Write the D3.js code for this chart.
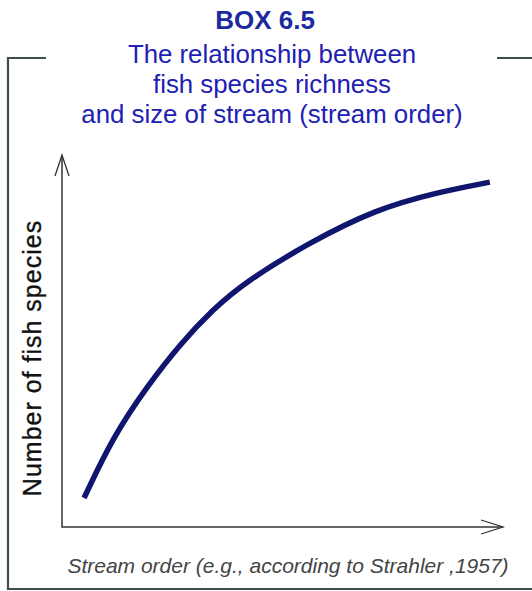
<html>

<head>
    <script src="https://d3js.org/d3.v7.min.js"></script>
    <style>
        body { margin: 0; background: #fff; }
        text { font-family: "Liberation Sans", Arial, sans-serif; }
    </style>
</head>

<body>
    <svg height="591" width="532"></svg>

    <script>
        // stream order (arbitrary units) vs number of fish species (arbitrary units)
        const streamOrder = [0.50, 1.16, 1.93, 2.68, 3.43, 4.16, 5.57, 7.11, 8.52, 9.70];
        const species     = [0.78, 2.43, 3.78, 4.92, 5.86, 6.59, 7.62, 8.54, 9.00, 9.27];
        const titleLines = ["The relationship between", "fish species richness", "and size of stream (stream order)"];

        const svg = d3.select("svg");
        const margins = { top: 155, right: 29, bottom: 64, left: 62 };
        const width = +svg.attr("width");
        const height = +svg.attr("height");

        const xScale = d3.scaleLinear().domain([0, 10]).range([margins.left, width - margins.right]);
        const yScale = d3.scaleLinear().domain([0, 10]).range([height - margins.bottom, margins.top]);

        // frame
        const frameColor = "#3f4f4f";
        svg.append("path")
            .attr("d", "M46,58 H8 V589 H532 M497,58 H532")
            .attr("fill", "none")
            .attr("stroke", frameColor)
            .attr("stroke-width", 2.2);

        // title
        svg.append("text")
            .attr("x", 265).attr("y", 29)
            .attr("text-anchor", "middle")
            .attr("font-size", 26).attr("font-weight", "bold")
            .attr("fill", "#1b2a9c")
            .text("BOX 6.5");

        svg.selectAll(".title")
            .data(titleLines)
            .join("text")
            .attr("class", "title")
            .attr("x", 272)
            .attr("y", (d, i) => 63 + i * 30)
            .attr("text-anchor", "middle")
            .attr("font-size", 25.8)
            .attr("fill", "#2020b4")
            .text(d => d);

        // axes with open arrow heads
        const x0 = xScale(0), y0 = yScale(0), xEnd = xScale(10), yEnd = yScale(10);
        const axisColor = "#333";
        svg.append("path")
            .attr("d", `M${x0},${yEnd} V${y0} H${xEnd}`)
            .attr("fill", "none").attr("stroke", axisColor).attr("stroke-width", 1.5);
        svg.append("path")
            .attr("d", `M${x0 - 7},${yEnd + 21} L${x0},${yEnd} L${x0 + 7},${yEnd + 21}`)
            .attr("fill", "none").attr("stroke", axisColor).attr("stroke-width", 1.3);
        svg.append("path")
            .attr("d", `M${xEnd - 22},${y0 - 7} L${xEnd},${y0} L${xEnd - 22},${y0 + 7}`)
            .attr("fill", "none").attr("stroke", axisColor).attr("stroke-width", 1.3);

        // axis labels
        svg.append("text")
            .attr("transform", "translate(41,358) rotate(-90)")
            .attr("text-anchor", "middle")
            .attr("font-size", 25)
            .attr("letter-spacing", 1)
            .attr("fill", "#111")
            .attr("stroke", "#111")
            .attr("stroke-width", 0.35)
            .text("Number of fish species");

        svg.append("text")
            .attr("x", 288).attr("y", 573)
            .attr("text-anchor", "middle")
            .attr("font-size", 21).attr("font-style", "italic")
            .attr("fill", "#444")
            .text("Stream order (e.g., according to Strahler ,1957)");

        // curve
        const line = d3.line()
            .x((d, i) => xScale(streamOrder[i]))
            .y(d => yScale(d))
            .curve(d3.curveBasis);

        svg.append("path")
            .datum(species)
            .attr("d", line)
            .attr("fill", "none")
            .attr("stroke", "#10156e")
            .attr("stroke-width", 5.5);
    </script>
</body>

</html>
